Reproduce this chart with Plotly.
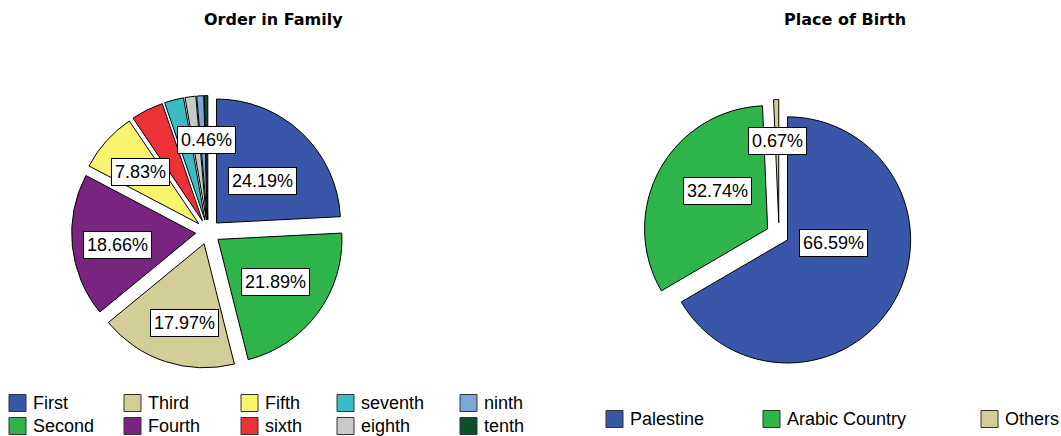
import math
import plotly.graph_objects as go

W, H = 1061, 436

# ---------------- data ----------------
order_labels = ["First", "Second", "Third", "Fourth", "Fifth",
                "sixth", "seventh", "eighth", "ninth", "tenth"]
order_values = [24.19, 21.89, 17.97, 18.66, 7.83, 4.2, 2.5, 1.4, 0.9, 0.46]
order_shown = [True, True, True, True, True, False, False, False, False, True]

birth_labels = ["Palestine", "Arabic Country", "Others"]
birth_values = [66.59, 32.74, 0.67]
birth_shown = [True, True, True]

# ---------------- style ----------------
order_colors = ["#3A56A8", "#2DB44A", "#D3CE97", "#7A2481", "#F9F46D",
                "#EC3237", "#3BBCC3", "#C9C9C9", "#7AA6D8", "#0D4F2B"]
birth_colors = ["#3A56A8", "#2DB44A", "#D3CE97"]
order_pull = [0.1] * 10
birth_pull = [0.08, 0.105, 0.1]
# label placement: radial fraction of radius and angle shift (degrees)
order_label_r = [0.50, 0.58, 0.66, 0.64, 0.63, 0.6, 0.6, 0.6, 0.6, 0.64]
order_label_da = [3, 0, -4, -2, 0, 0, 0, 0, 0, 0]
birth_label_r = [0.37, 0.51, 0.66]
birth_label_da = [-22, 7, 0]

FONT = "Liberation Sans, Arial, sans-serif"
TITLE_FONT = "DejaVu Sans, Verdana, sans-serif"


def px_to_paper(x, y):
    return x / W, 1 - y / H


fig = go.Figure()
annotations = []
shapes = []


def add_pie(labels, values, colors, pulls, shown, cx, cy, R, lab_r, lab_da):
    x0, y1 = px_to_paper(cx - R, cy - R)
    x1, y0 = px_to_paper(cx + R, cy + R)
    fig.add_trace(go.Pie(
        labels=labels, values=values, sort=False, direction="clockwise",
        rotation=0, pull=pulls, textinfo="none", hoverinfo="label+percent",
        marker=dict(colors=colors, line=dict(color="#000000", width=1)),
        domain=dict(x=[x0, x1], y=[y0, y1]), showlegend=False,
    ))
    r = R / (1 + max(pulls))
    total = sum(values)
    cum = 0.0
    for lab, v, p, s, fr, da in zip(labels, values, pulls, shown, lab_r, lab_da):
        mid = (cum + v / 2) / total * 2 * math.pi
        cum += v
        if not s:
            continue
        ang = mid + math.radians(da)
        d = p * r + fr * r
        lx = cx + d * math.sin(ang)
        ly = cy - d * math.cos(ang)
        ax, ay = px_to_paper(lx, ly)
        annotations.append(dict(
            x=ax, y=ay, xref="paper", yref="paper", showarrow=False,
            text=f"{v / total * 100:.2f}%",
            font=dict(family=FONT, size=18, color="#000"),
            bgcolor="#FFFFFF", bordercolor="#000000", borderwidth=1, borderpad=3,
            xanchor="center", yanchor="middle",
        ))


add_pie(order_labels, order_values, order_colors, order_pull, order_shown,
        208, 232, 136.4, order_label_r, order_label_da)
add_pie(birth_labels, birth_values, birth_colors, birth_pull, birth_shown,
        779, 235, 136, birth_label_r, birth_label_da)

# titles
for txt, x in [("Order in Family", 273), ("Place of Birth", 845)]:
    px, py = px_to_paper(x, 19)
    annotations.append(dict(x=px, y=py, xref="paper", yref="paper", showarrow=False,
                            text=f"<b>{txt}</b>", xanchor="center", yanchor="middle",
                            font=dict(family=TITLE_FONT, size=16, color="#000")))


def add_legend(labels, colors, col_x, row_y, rows):
    for i, (lab, col) in enumerate(zip(labels, colors)):
        c, rr = divmod(i, rows)
        x = col_x[c]
        y = row_y[rr]
        shapes.append(dict(type="rect", xref="paper", yref="paper",
                           x0=x / W, x1=(x + 17) / W,
                           y0=1 - (y + 8.5) / H, y1=1 - (y - 8.5) / H,
                           fillcolor=col, line=dict(color="#333333", width=1)))
        tx, ty = px_to_paper(x + 22, y)
        annotations.append(dict(x=tx, y=ty, xref="paper", yref="paper", showarrow=False,
                                text=lab, xanchor="left", yanchor="middle",
                                font=dict(family=FONT, size=18, color="#000")))


add_legend(order_labels, order_colors, [9, 124, 241, 337, 460], [403, 426], 2)
add_legend(birth_labels, birth_colors, [606, 763, 981], [419], 1)

fig.update_layout(
    width=W, height=H, margin=dict(l=0, r=0, t=0, b=0),
    paper_bgcolor="#FFFFFF", plot_bgcolor="#FFFFFF",
    annotations=annotations, shapes=shapes,
)

fig.write_html("out.html")
